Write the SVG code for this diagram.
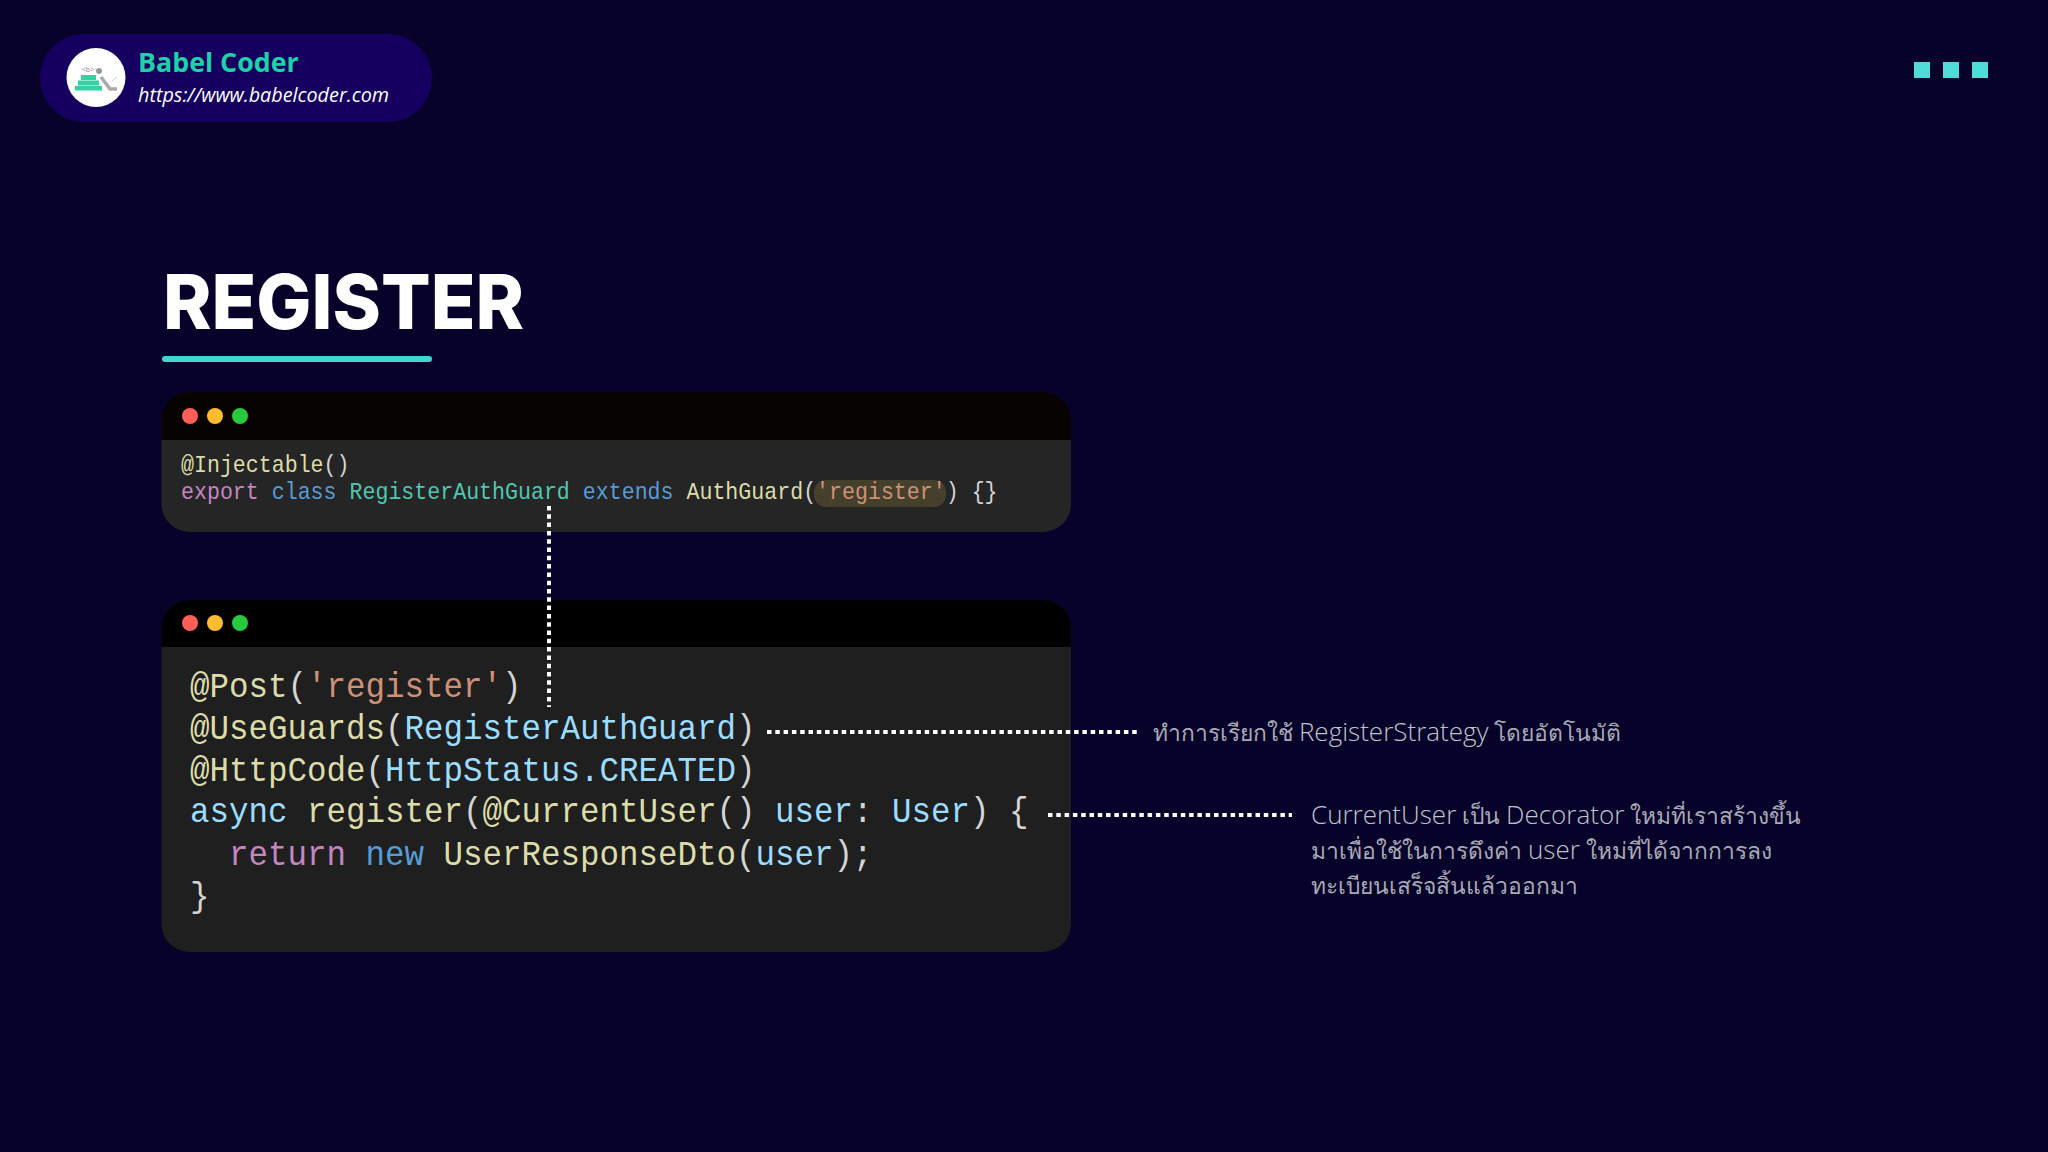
<svg xmlns="http://www.w3.org/2000/svg" width="2048" height="1152" viewBox="0 0 2048 1152">
<style>
.mono{font-family:"Liberation Mono","DejaVu Sans Mono",monospace;white-space:pre}
.s{font-size:24px}.b{font-size:36px}
.y{fill:#dcdcaa}.w{fill:#d4d4d4}.p{fill:#c586c0}.k{fill:#569cd6}.t{fill:#4ec9b0}.o{fill:#ce9178}.v{fill:#9cdcfe}
.hd{fill:#060300}.dot{stroke:#fff;stroke-width:4;fill:none;stroke-dasharray:4.5 3.8}
.note{font-family:"Open Sans","Noto Sans",sans-serif;font-weight:300;font-size:22.8px;fill:#a9a9b5}
.note .l{font-size:26px;fill:#c2c2cc}
.sq{fill:#4fdcd8}
</style>
<rect width="2048" height="1152" fill="#060229"/>
<g id="brand">
<rect x="40" y="34" width="392" height="88" rx="44" fill="#150060"/>
<circle cx="96" cy="77.5" r="29.5" fill="#fff"/>
<g fill="#2fd3a4"><rect x="75" y="86" width="27" height="4.5"/><rect x="78" y="80.5" width="21" height="5"/><rect x="81" y="75" width="15" height="5"/></g>
<circle cx="99" cy="71" r="3" fill="#999"/>
<path d="M101 77 L110 89 L117 89" fill="none" stroke="#aaa" stroke-width="3.5"/>
<path d="M112 81 L117 77" fill="none" stroke="#ccc" stroke-width="1"/>
<text x="88" y="72" font-family="Open Sans" font-size="7" fill="#888" text-anchor="middle">&lt;b&gt;</text>
<text x="138" y="72" font-family="Open Sans" font-weight="700" font-size="26.8" fill="#20d0a8">Babel Coder</text>
<text x="138" y="102" font-family="Open Sans" font-style="italic" font-size="19.8" fill="#fff">https://www.babelcoder.com</text>
</g>
<g id="menu"><rect class="sq" x="1914" y="62" width="16" height="16"/><rect class="sq" x="1943" y="62" width="16" height="16"/><rect class="sq" x="1972" y="62" width="16" height="16"/></g>
<g id="title">
<text x="163" y="329" font-family="Inter" font-weight="800" font-size="76" fill="#fff" textLength="361" lengthAdjust="spacingAndGlyphs">REGISTER</text>
<rect x="162" y="356" width="270" height="6" rx="3" fill="#3dd6d0"/>
</g>
<g id="card-guard">
<rect x="161.5" y="392" width="909.5" height="140" rx="28" fill="#252525"/>
<path class="hd" d="M161.5 440V420a28 28 0 0 1 28-28H1043a28 28 0 0 1 28 28V440Z"/>
<circle cx="190" cy="416" r="8" fill="#ff5f56"/><circle cx="215" cy="416" r="8" fill="#ffbd2e"/><circle cx="240" cy="416" r="8" fill="#27c93f"/>
<rect x="814" y="480" width="132" height="27" rx="12" fill="#45402c"/>
<g transform="translate(181 0) scale(.9 1)">
<text class="mono s y" y="472">@Injectable<tspan class="w">()</tspan></text>
<text class="mono s" y="499"><tspan class="p">export</tspan> <tspan class="k">class</tspan> <tspan class="t">RegisterAuthGuard</tspan> <tspan class="k">extends</tspan> <tspan class="y">AuthGuard</tspan><tspan class="w">(</tspan><tspan class="o">'register'</tspan><tspan class="w">) {}</tspan></text>
</g>
</g>
<g id="card-controller">
<rect x="161.5" y="600" width="909.5" height="352" rx="28" fill="#1f1f1f"/>
<path fill="#000" d="M161.5 647V628a28 28 0 0 1 28-28H1043a28 28 0 0 1 28 28V647Z"/>
<circle cx="190" cy="623" r="8" fill="#ff5f56"/><circle cx="215" cy="623" r="8" fill="#ffbd2e"/><circle cx="240" cy="623" r="8" fill="#27c93f"/>
<g transform="translate(190 0) scale(.903 1)">
<text class="mono b y" y="697">@Post<tspan class="w">(</tspan><tspan class="o">'register'</tspan><tspan class="w">)</tspan></text>
<text class="mono b y" y="739">@UseGuards<tspan class="w">(</tspan><tspan class="v">RegisterAuthGuard</tspan><tspan class="w">)</tspan></text>
<text class="mono b y" y="781">@HttpCode<tspan class="w">(</tspan><tspan class="v">HttpStatus.CREATED</tspan><tspan class="w">)</tspan></text>
<text class="mono b y" y="822"><tspan class="v">async</tspan> register<tspan class="w">(</tspan>@CurrentUser<tspan class="w">()</tspan> <tspan class="v">user</tspan><tspan class="w">:</tspan> <tspan class="v">User</tspan><tspan class="w">) {</tspan></text>
<text class="mono b y" y="865">  <tspan class="p">return</tspan> <tspan class="k">new</tspan> UserResponseDto<tspan class="w">(</tspan><tspan class="v">user</tspan><tspan class="w">);</tspan></text>
<text class="mono b w" y="907">}</text>
</g>
</g>
<g id="connectors">
<path class="dot" d="M549 506V707"/>
<path class="dot" d="M767 732H1139"/>
<path class="dot" d="M1048 815H1292"/>
</g>
<g id="note-1"><text class="note" x="1153" y="741">ทำการเรียกใช้ <tspan class="l">RegisterStrategy</tspan> โดยอัตโนมัติ</text></g>
<g id="note-2">
<text class="note" x="1311" y="824"><tspan class="l">CurrentUser</tspan> เป็น <tspan class="l">Decorator</tspan> ใหม่ที่เราสร้างขึ้น</text>
<text class="note" x="1311" y="859">มาเพื่อใช้ในการดึงค่า <tspan class="l">user</tspan> ใหม่ที่ได้จากการลง</text>
<text class="note" x="1311" y="894">ทะเบียนเสร็จสิ้นแล้วออกมา</text>
</g>
</svg>
